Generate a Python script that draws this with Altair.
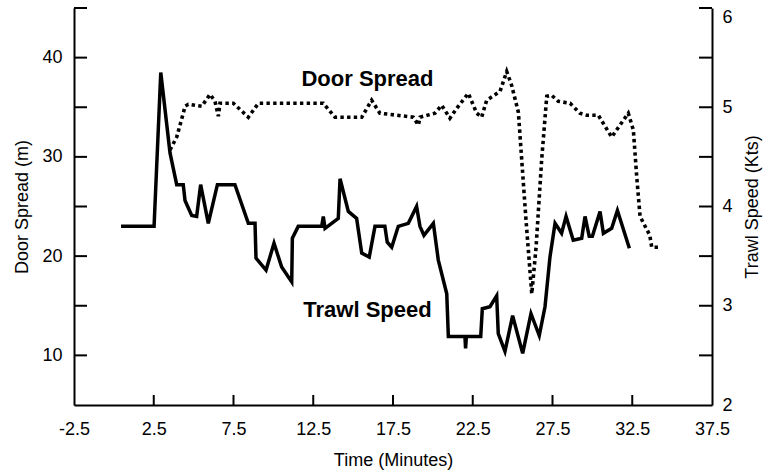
import altair as alt
import pandas as pd

# ---------------- data ----------------
door_t = [3.52, 3.94, 4.35, 4.46, 4.67, 5.09, 5.51, 6.03, 6.34, 6.55,
          6.65, 7.49, 8.43, 9.06, 13.13, 13.86, 15.54, 16.16, 16.68, 18.77,
          19.09, 19.2, 20.13, 20.55, 21.07, 21.5, 22.22, 22.75, 23.06, 23.37,
          24.21, 24.63, 24.94, 25.36, 25.57, 25.84, 26.2, 26.47, 26.82, 27.14,
          27.45, 27.86, 28.6, 29.22, 29.64, 30.37, 31.21, 32.25, 32.57, 32.78,
          32.99, 33.6, 33.72, 34.13]
door_v = [30.7, 32.0, 34.4, 35.1, 35.3, 35.2, 35.1, 36.3, 35.6, 34.1,
          35.4, 35.4, 34.0, 35.4, 35.4, 34.0, 34.0, 35.7, 34.4, 34.0,
          33.2, 34.0, 34.4, 35.2, 33.9, 34.9, 36.4, 34.4, 34.0, 35.7,
          36.6, 38.6, 37.2, 34.5, 29.7, 23.6, 16.2, 20.9, 29.7, 36.1,
          36.2, 35.6, 35.4, 34.4, 34.2, 34.2, 32.0, 34.4, 32.7, 28.0,
          24.0, 22.1, 20.9, 20.9]

trawl_t = [0.45, 2.52, 2.94, 3.52, 3.94, 4.35, 4.46, 4.88, 5.19, 5.44,
           5.92, 6.49, 7.59, 8.43, 8.85, 8.91, 9.54, 10.04, 10.52, 11.15,
           11.19, 11.56, 13.03, 13.13, 13.24, 14.07, 14.18, 14.70, 15.22, 15.54,
           16.01, 16.37, 16.99, 17.14, 17.42, 17.83, 18.46, 18.98, 19.19, 19.44,
           20.03, 20.34, 20.87, 20.97, 22.01, 22.05, 22.1, 23.0, 23.1, 23.58,
           24.0, 24.1, 24.52, 25.0, 25.63, 26.15, 26.67, 27.03, 27.34, 27.66,
           28.07, 28.35, 28.80, 29.33, 29.54, 29.8, 30.0, 30.48, 30.69, 31.21,
           31.57, 32.32]
trawl_s = [3.80, 3.80, 5.35, 4.54, 4.22, 4.22, 4.06, 3.91, 3.90, 4.22,
           3.83, 4.22, 4.22, 3.83, 3.83, 3.48, 3.36, 3.63, 3.39, 3.24,
           3.68, 3.80, 3.80, 3.90, 3.78, 3.88, 4.28, 3.95, 3.88, 3.53,
           3.49, 3.80, 3.80, 3.64, 3.59, 3.80, 3.83, 4.00, 3.80, 3.71,
           3.83, 3.46, 3.12, 2.69, 2.69, 2.57, 2.69, 2.69, 2.97, 2.99,
           3.10, 2.72, 2.54, 2.90, 2.52, 2.92, 2.70, 2.99, 3.49, 3.83,
           3.73, 3.90, 3.66, 3.68, 3.90, 3.70, 3.70, 3.95, 3.73, 3.78,
           3.96, 3.58]

x_label_values = [-2.5, 2.5, 7.5, 12.5, 17.5, 22.5, 27.5, 32.5, 37.5]
x_tick_values = [2.5, 7.5, 12.5, 17.5, 22.5, 27.5, 32.5]
left_label_values = [10, 20, 30, 40]
left_tick_values = [10, 15, 20, 25, 30, 35, 40, 45]
right_label_values = [2, 3, 4, 5, 6]
right_tick_values = [2.5, 3, 3.5, 4, 4.5, 5, 5.5, 6]

annot_text = ["Door Spread", "Trawl Speed"]
annot_t = [15.9, 15.9]
annot_v = [37.14, 13.9]

# ---------------- chart ----------------
FONT = "Liberation Sans"
W, H = 638, 397

door_df = pd.DataFrame({"t": door_t, "v": door_v})
trawl_df = pd.DataFrame({"t": trawl_t, "s": trawl_s})
annot_df = pd.DataFrame({"t": annot_t, "v": annot_v, "label": annot_text})


def xscale():
    return alt.Scale(domain=[-2.5, 37.5], nice=False, zero=False)


def lscale():
    return alt.Scale(domain=[5, 45], nice=False, zero=False)


def rscale():
    return alt.Scale(domain=[2, 6], nice=False, zero=False)


common = dict(grid=False, ticks=False, domainColor="black", domainWidth=2,
              labelColor="black", titleColor="black", labelFont=FONT, titleFont=FONT,
              labelFontSize=18, titleFontSize=18, titleFontWeight="normal",
              labelOverlap=False)

x_axis = alt.Axis(values=x_label_values, title="Time (Minutes)",
                  labelExpr="(datum.value < 0 ? '-' : '') + format(abs(datum.value), '.1f')",
                  labelFlush=False, labelPadding=15, titleY=60,
                  titleBaseline="alphabetic", **common)
left_axis = alt.Axis(values=left_label_values, title="Door Spread (m)", orient="left",
                     labelPadding=12, titleAngle=270, titleX=-47, titleY=H / 2,
                     titleBaseline="alphabetic", titleAlign="center", **common)
right_axis = alt.Axis(values=right_label_values, title="Trawl Speed (Kts)", orient="right",
                      labelPadding=10, titleAngle=270, titleX=45, titleY=H / 2,
                      titleBaseline="alphabetic", titleAlign="center",
                      labelBaseline={"condition": {"test": "datum.value == 6", "value": "top"},
                                     "value": "middle"},
                      **common)

door_line = alt.Chart(door_df).mark_line(
    color="black", strokeWidth=3.6, strokeDash=[3.4, 3.3]
).encode(
    x=alt.X("t:Q", scale=xscale(), axis=x_axis),
    y=alt.Y("v:Q", scale=lscale(), axis=left_axis),
)

trawl_line = alt.Chart(trawl_df).mark_line(
    color="black", strokeWidth=3.5
).encode(
    x=alt.X("t:Q", scale=xscale()),
    y=alt.Y("s:Q", scale=rscale(), axis=right_axis),
)

left_ticks = alt.Chart(pd.DataFrame({"lv": left_tick_values})).mark_rule(
    color="black", strokeWidth=2
).encode(
    y=alt.Y("lv:Q", scale=lscale(), axis=None),
    x=alt.value(0), x2=alt.value(13),
)

right_ticks = alt.Chart(pd.DataFrame({"rv": right_tick_values})).mark_rule(
    color="black", strokeWidth=2
).encode(
    y=alt.Y("rv:Q", scale=rscale(), axis=None),
    x=alt.value(W - 13), x2=alt.value(W),
)

bottom_ticks = alt.Chart(pd.DataFrame({"t": x_tick_values})).mark_rule(
    color="black", strokeWidth=2
).encode(
    x=alt.X("t:Q", scale=xscale()),
    y=alt.value(H), y2=alt.value(H - 10),
)

annot = alt.Chart(annot_df).mark_text(
    font=FONT, fontSize=22, fontWeight="bold", align="center",
    baseline="alphabetic", color="black"
).encode(
    x=alt.X("t:Q", scale=xscale()),
    y=alt.Y("v:Q", scale=lscale(), axis=None),
    text="label:N",
)

chart = alt.layer(
    door_line, trawl_line, left_ticks, right_ticks, bottom_ticks, annot
).resolve_scale(y="independent").properties(
    width=W, height=H,
    padding={"left": 74, "top": 8, "right": 765 - 74 - W, "bottom": 476 - 8 - H},
    autosize=alt.AutoSizeParams(type="none"),
    background="white",
).configure_view(stroke=None)

chart.save("out.html", embed_options={"renderer": "svg", "actions": False})
